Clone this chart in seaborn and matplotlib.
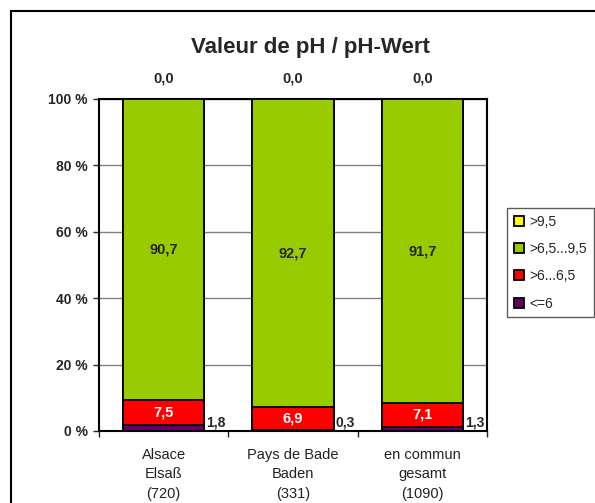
import matplotlib
matplotlib.use("Agg")
import matplotlib.pyplot as plt
from matplotlib.patches import Rectangle
import numpy as np
import pandas as pd
import seaborn as sns

# data (percent per class)
regions = ["Alsace\nElsaß\n(720)", "Pays de Bade\nBaden\n(331)", "en commun\ngesamt\n(1090)"]
classes = ["<=6", ">6...6,5", ">6,5...9,5", ">9,5"]
le_6 = [1.8, 0.3, 1.3]
ph_6_65 = [7.5, 6.9, 7.1]
ph_65_95 = [90.7, 92.7, 91.7]
gt_95 = [0.0, 0.0, 0.0]
colors = ["#660066", "#FF0000", "#99CC00", "#FFFF00"]

series = [le_6, ph_6_65, ph_65_95, gt_95]
cum = np.cumsum(np.array(series), axis=0)
# the top of the stack is shown as 100 %
cum = cum / cum[-1] * 100


def fmt(v):
    return f"{v:.1f}".replace(".", ",")


sns.set_style("white")
plt.rcParams["font.family"] = ["Liberation Sans", "DejaVu Sans"]

fig = plt.figure(figsize=(5.95, 5.03), dpi=100)
ax = fig.add_axes([99 / 595, 1 - 431 / 503, 388 / 595, 332 / 503])

# outer chart frame
fig.patches.append(Rectangle((11 / 595, -0.1), 1.2, 1 - 11 / 503 + 0.1,
                             transform=fig.transFigure, fill=False,
                             edgecolor="black", linewidth=1.5, zorder=0))

# stacked bars: draw cumulative totals from the top class down
for i in range(len(classes) - 1, -1, -1):
    df = pd.DataFrame({"region": regions, "value": cum[i]})
    sns.barplot(data=df, x="region", y="value", color=colors[i], width=0.63,
                edgecolor="black", linewidth=1.3, saturation=1, ax=ax, zorder=3)

ax.set_ylim(0, 100)
ax.set_xlim(-0.5, 2.5)
ax.set_yticks([0, 20, 40, 60, 80, 100])
ax.set_yticklabels(["0 %", "20 %", "40 %", "60 %", "80 %", "100 %"],
                   fontsize=10, fontweight="bold")
ax.yaxis.grid(True, color="#808080", linewidth=1, zorder=0)
ax.set_axisbelow(True)
ax.tick_params(axis="y", length=4, width=1, direction="out", left=True, pad=4)
ax.tick_params(axis="x", length=0, labelsize=10.5, pad=12)
ax.set_xticks([-0.5, 0.5, 1.5, 2.5], minor=True)
ax.tick_params(axis="x", which="minor", length=4, width=1, direction="out", bottom=True)
ax.set_xlabel("")
ax.set_ylabel("")
for lbl in ax.get_xticklabels():
    lbl.set_linespacing(1.5)
    lbl.set_color("#222222")
for sp in ax.spines.values():
    sp.set_color("black")
    sp.set_linewidth(1.5)
    sp.set_visible(True)

# value labels
for j in range(len(regions)):
    ax.text(j + 0.33, 0.6, fmt(le_6[j]), ha="left", va="bottom",
            fontsize=10, fontweight="bold", zorder=5)
    ax.text(j, (cum[0][j] + cum[1][j]) / 2, fmt(ph_6_65[j]),
            ha="center", va="center", fontsize=10.5, fontweight="bold", color="white", zorder=5)
    ax.text(j, (cum[1][j] + cum[2][j]) / 2, fmt(ph_65_95[j]),
            ha="center", va="center", fontsize=10.5, fontweight="bold", zorder=5)
    ax.text(j, 104, fmt(gt_95[j]), ha="center", va="bottom",
            fontsize=10.5, fontweight="bold", clip_on=False, zorder=5)

fig.text(310 / 595, 1 - 48 / 503, "Valeur de pH / pH-Wert", ha="center", va="center",
         fontsize=16, fontweight="bold")

handles = [plt.Line2D([], [], marker="s", linestyle="", markersize=6.5,
                      markerfacecolor=colors[i], markeredgecolor="black",
                      markeredgewidth=1.3, label=classes[i])
           for i in range(len(classes) - 1, -1, -1)]
leg = fig.legend(handles=handles, loc="upper left", bbox_to_anchor=(507 / 595, 1 - 208 / 503),
                 frameon=True, fancybox=False, fontsize=10, handlelength=0.7,
                 handletextpad=0.4, labelspacing=0.95, borderpad=0.5, borderaxespad=0)
leg.get_frame().set_edgecolor("#333333")
leg.get_frame().set_linewidth(1)

fig.savefig("out.png", dpi=100)
